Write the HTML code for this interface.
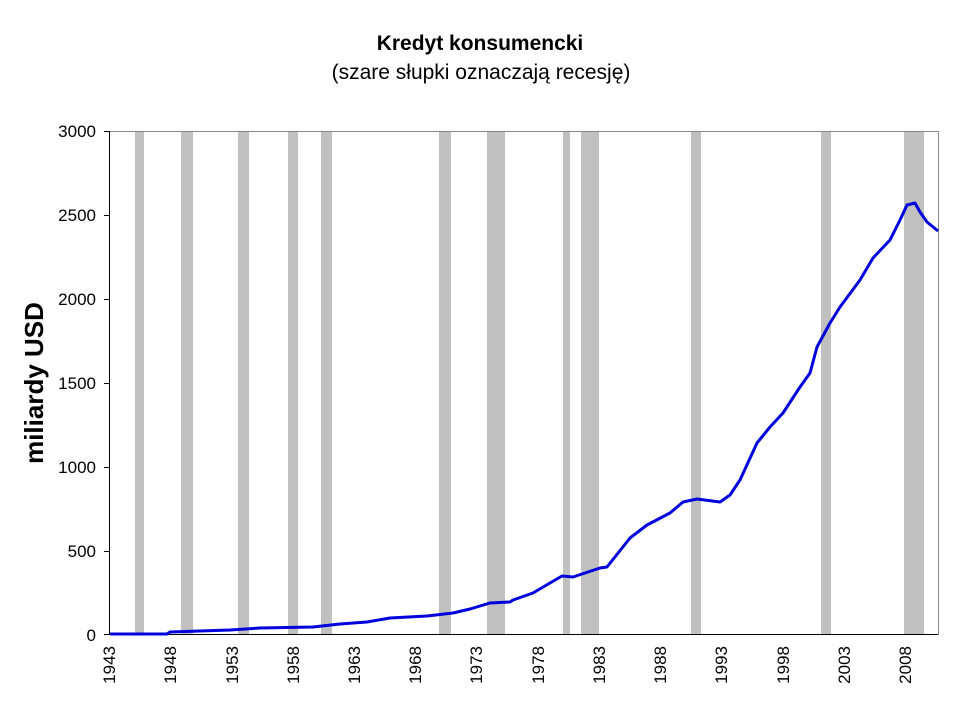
<!DOCTYPE html>
<html><head><meta charset="utf-8"><style>body{margin:0;background:#fff}svg{display:block}</style></head>
<body>
<svg width="960" height="720" xmlns="http://www.w3.org/2000/svg" font-family="Liberation Sans, Arial, sans-serif">
<rect width="960" height="720" fill="#fff"/>
<text x="480" y="50" text-anchor="middle" font-size="21" font-weight="bold">Kredyt konsumencki</text>
<text x="481" y="79" text-anchor="middle" font-size="21">(szare słupki oznaczają recesję)</text>
<g fill="#c0c0c0">
<rect x="135" y="131" width="9" height="504"/>
<rect x="181" y="131" width="12" height="504"/>
<rect x="238" y="131" width="11" height="504"/>
<rect x="288" y="131" width="10" height="504"/>
<rect x="321" y="131" width="11" height="504"/>
<rect x="439" y="131" width="12" height="504"/>
<rect x="487" y="131" width="18" height="504"/>
<rect x="563" y="131" width="7" height="504"/>
<rect x="581" y="131" width="18" height="504"/>
<rect x="691" y="131" width="10" height="504"/>
<rect x="821" y="131" width="10" height="504"/>
<rect x="904" y="131" width="20" height="504"/>
</g>
<polyline fill="none" stroke="#888" stroke-width="1" points="109,131.5 938.5,131.5 938.5,635"/>
<g stroke="#000" stroke-width="1">
<line x1="109.5" y1="131" x2="109.5" y2="635"/>
<line x1="109" y1="634.5" x2="938" y2="634.5"/>
<line x1="104" y1="131.5" x2="109" y2="131.5"/>
<line x1="104" y1="215.5" x2="109" y2="215.5"/>
<line x1="104" y1="299.5" x2="109" y2="299.5"/>
<line x1="104" y1="383.5" x2="109" y2="383.5"/>
<line x1="104" y1="467.5" x2="109" y2="467.5"/>
<line x1="104" y1="551.5" x2="109" y2="551.5"/>
<line x1="104" y1="634.5" x2="109" y2="634.5"/>
</g>
<g font-size="17" text-anchor="end">
<text x="96" y="137">3000</text>
<text x="96" y="221">2500</text>
<text x="96" y="305">2000</text>
<text x="96" y="389">1500</text>
<text x="96" y="473">1000</text>
<text x="96" y="557">500</text>
<text x="96" y="641">0</text>
</g>
<text transform="translate(43,383) rotate(-90)" text-anchor="middle" font-size="26" font-weight="bold">miliardy USD</text>
<g font-size="17" text-anchor="end">
<text transform="translate(115,646) rotate(-90)">1943</text>
<text transform="translate(176,646) rotate(-90)">1948</text>
<text transform="translate(238,646) rotate(-90)">1953</text>
<text transform="translate(299,646) rotate(-90)">1958</text>
<text transform="translate(360,646) rotate(-90)">1963</text>
<text transform="translate(421,646) rotate(-90)">1968</text>
<text transform="translate(482,646) rotate(-90)">1973</text>
<text transform="translate(544,646) rotate(-90)">1978</text>
<text transform="translate(605,646) rotate(-90)">1983</text>
<text transform="translate(666,646) rotate(-90)">1988</text>
<text transform="translate(727,646) rotate(-90)">1993</text>
<text transform="translate(789,646) rotate(-90)">1998</text>
<text transform="translate(850,646) rotate(-90)">2003</text>
<text transform="translate(911,646) rotate(-90)">2008</text>
</g>
<polyline fill="none" stroke="#0000dd" stroke-width="3" stroke-linejoin="round" points="110,634 167,634 170,632 200,631 230,630 260,628 313,627 340,624 367,622 390,618 427,616 453,613 470,609 490,603 510,602 513,600 533,593 550,583 562,576 573,577 600,568 607,567 630,538 647,525 670,513 683,502 697,499 720,502 730,495 740,480 757,443 770,427 783,413 800,387 810,373 817,347 830,323 840,307 860,280 873,258 890,240 900,220 907,205 915,203 920,212 927,222 938,231"/>
</svg>
</body></html>
